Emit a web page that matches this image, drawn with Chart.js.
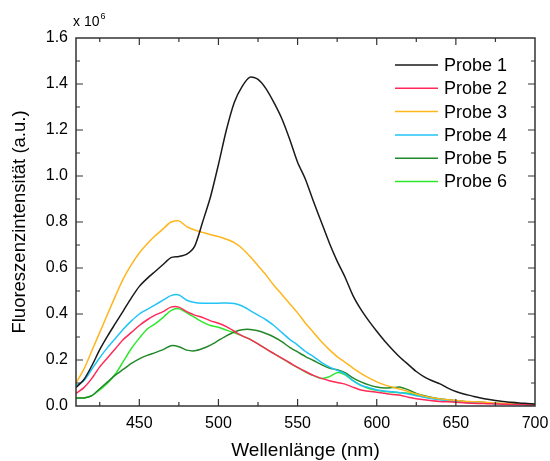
<!DOCTYPE html>
<html>
<head>
<meta charset="utf-8">
<title>Fluoreszenzspektren</title>
<script src="https://cdn.jsdelivr.net/npm/chart.js@4.4.1/dist/chart.umd.min.js"></script>
<style>
    html, body { margin: 0; padding: 0; background: #fff; }
    #wrap { width: 550px; height: 461px; }
</style>
</head>
<body>
<div id="wrap"><canvas id="spectra" width="550" height="461"></canvas></div>
<script>
// Wavelengths (nm), 5 nm steps
const wavelengths = [];
for (let nm = 410; nm <= 700; nm += 5) wavelengths.push(nm);

// Intensities in units of 10^6 (a.u.)
const probe1 = [0.08, 0.115, 0.175, 0.245, 0.305, 0.36, 0.415, 0.47, 0.52, 0.555, 0.585, 0.615, 0.645, 0.65, 0.66, 0.695,
    0.80, 0.91, 1.05, 1.20, 1.32, 1.39, 1.43, 1.42, 1.38, 1.32, 1.25, 1.16, 1.06, 0.985, 0.89, 0.80, 0.71, 0.63, 0.56,
    0.48, 0.42, 0.37, 0.325, 0.283, 0.245, 0.21, 0.18, 0.15, 0.127, 0.11, 0.096, 0.078, 0.063, 0.052, 0.044, 0.036,
    0.029, 0.024, 0.02, 0.016, 0.013, 0.011, 0.009];
const probe2 = [0.055, 0.08, 0.12, 0.17, 0.21, 0.25, 0.29, 0.32, 0.35, 0.375, 0.395, 0.41, 0.43, 0.43, 0.41, 0.395,
    0.385, 0.37, 0.36, 0.345, 0.325, 0.305, 0.29, 0.27, 0.248, 0.228, 0.208, 0.188, 0.168, 0.15, 0.133, 0.12, 0.11,
    0.102, 0.095, 0.082, 0.07, 0.064, 0.06, 0.055, 0.05, 0.047, 0.038, 0.032, 0.027, 0.023, 0.02, 0.018, 0.016,
    0.014, 0.012, 0.011, 0.01, 0.009, 0.008, 0.007, 0.006, 0.005, 0.004];
const probe3 = [0.10, 0.16, 0.24, 0.32, 0.40, 0.48, 0.555, 0.615, 0.665, 0.705, 0.74, 0.77, 0.80, 0.805, 0.78, 0.765,
    0.755, 0.745, 0.737, 0.725, 0.71, 0.685, 0.65, 0.61, 0.57, 0.525, 0.485, 0.445, 0.405, 0.36, 0.32, 0.28, 0.245,
    0.215, 0.19, 0.165, 0.142, 0.122, 0.105, 0.092, 0.082, 0.073, 0.063, 0.052, 0.043, 0.036, 0.031, 0.027, 0.024,
    0.021, 0.019, 0.017, 0.015, 0.013, 0.011, 0.009, 0.008, 0.007, 0.006];
const probe4 = [0.09, 0.11, 0.16, 0.21, 0.255, 0.295, 0.335, 0.37, 0.40, 0.42, 0.44, 0.46, 0.48, 0.483, 0.46, 0.45,
    0.447, 0.447, 0.447, 0.448, 0.446, 0.435, 0.415, 0.395, 0.375, 0.35, 0.32, 0.29, 0.265, 0.237, 0.215, 0.19, 0.17,
    0.155, 0.14, 0.11, 0.09, 0.08, 0.07, 0.065, 0.062, 0.058, 0.052, 0.045, 0.038, 0.032, 0.027, 0.023, 0.02, 0.018,
    0.016, 0.014, 0.012, 0.01, 0.009, 0.008, 0.007, 0.006, 0.005];
const probe5 = [0.035, 0.035, 0.045, 0.075, 0.105, 0.135, 0.16, 0.185, 0.205, 0.22, 0.232, 0.245, 0.262, 0.258,
    0.243, 0.24, 0.25, 0.265, 0.285, 0.305, 0.322, 0.332, 0.333, 0.327, 0.315, 0.30, 0.28, 0.255, 0.235, 0.215, 0.198,
    0.18, 0.165, 0.158, 0.145, 0.122, 0.105, 0.092, 0.083, 0.078, 0.08, 0.082, 0.07, 0.055, 0.045, 0.037, 0.031,
    0.027, 0.023, 0.02, 0.018, 0.016, 0.014, 0.012, 0.01, 0.009, 0.008, 0.007, 0.006];
const probe6 = [0.035, 0.035, 0.045, 0.07, 0.10, 0.14, 0.195, 0.25, 0.295, 0.335, 0.357, 0.385, 0.415, 0.423, 0.405,
    0.385, 0.365, 0.35, 0.342, 0.33, 0.318, 0.305, 0.29, 0.27, 0.248, 0.228, 0.207, 0.187, 0.167, 0.148, 0.132, 0.12,
    0.127, 0.145, 0.135, 0.11, 0.09, 0.076, 0.068, 0.063, 0.06, 0.058, 0.055, 0.048, 0.04, 0.034, 0.029, 0.025,
    0.022, 0.02, 0.018, 0.016, 0.014, 0.012, 0.01, 0.009, 0.008, 0.007, 0.006];

const seriesNames = ['Probe 1', 'Probe 2', 'Probe 3', 'Probe 4', 'Probe 5', 'Probe 6'];
const seriesValues = [probe1, probe2, probe3, probe4, probe5, probe6];
const seriesColors = ['#1a1a1a', '#ff2a5a', '#ffb61e', '#22c4f8', '#23882a', '#2ee82e'];

const FONT = '"Liberation Sans", Arial, sans-serif';

const datasets = seriesNames.map((name, i) => ({
    label: name,
    data: wavelengths.map((nm, j) => ({ x: nm, y: seriesValues[i][j] })),
    borderColor: seriesColors[i],
    backgroundColor: seriesColors[i],
    borderWidth: 1.5,
    pointRadius: 0,
    tension: 0.25,
    fill: false
}));

// Frame with inward ticks on all four sides, multiplier and legend
const framePlugin = {
    id: 'frame',
    afterDraw(chart) {
        const ctx = chart.ctx;
        const area = chart.chartArea;
        const xs = chart.scales.x;
        const ys = chart.scales.y;
        ctx.save();
        ctx.strokeStyle = '#333';
        ctx.lineWidth = 1.5;
        ctx.strokeRect(area.left, area.top, area.right - area.left, area.bottom - area.top);

        ctx.lineWidth = 1.2;
        ctx.beginPath();
        for (let nm = 425; nm < 700; nm += 25) {
            const px = xs.getPixelForValue(nm);
            const len = nm % 50 === 0 ? 7 : 4;
            ctx.moveTo(px, area.bottom); ctx.lineTo(px, area.bottom - len);
            ctx.moveTo(px, area.top); ctx.lineTo(px, area.top + len);
        }
        for (let k = 1; k < 16; k++) {
            const py = ys.getPixelForValue(k / 10);
            const len = k % 2 === 0 ? 7 : 4;
            ctx.moveTo(area.left, py); ctx.lineTo(area.left + len, py);
            ctx.moveTo(area.right, py); ctx.lineTo(area.right - len, py);
        }
        ctx.stroke();

        // x 10^6
        ctx.fillStyle = '#000';
        ctx.textBaseline = 'alphabetic';
        ctx.textAlign = 'left';
        ctx.font = '14px ' + FONT;
        ctx.fillText('x 10', 73, 26);
        const w = ctx.measureText('x 10').width;
        ctx.font = '9px ' + FONT;
        ctx.fillText('6', 73 + w + 1, 19);

        // legend
        ctx.font = '18px ' + FONT;
        ctx.textBaseline = 'middle';
        chart.data.datasets.forEach((ds, i) => {
            const y = 65 + i * 23.3;
            ctx.strokeStyle = ds.borderColor;
            ctx.lineWidth = 1.5;
            ctx.beginPath();
            ctx.moveTo(395, y); ctx.lineTo(438, y);
            ctx.stroke();
            ctx.fillStyle = '#000';
            ctx.fillText(ds.label, 444, y + 1);
        });
        ctx.restore();
    }
};

new Chart(document.getElementById('spectra'), {
    type: 'line',
    data: { datasets: datasets },
    options: {
        responsive: false,
        devicePixelRatio: 1,
        animation: false,
        layout: { padding: { top: 38, right: 15, left: 0, bottom: 0 } },
        plugins: { legend: { display: false }, tooltip: { enabled: false } },
        scales: {
            x: {
                type: 'linear',
                min: 410,
                max: 700,
                grid: { display: false, drawTicks: false },
                border: { display: false },
                ticks: {
                    stepSize: 50,
                    includeBounds: false,
                    padding: 8,
                    color: '#000',
                    maxRotation: 0,
                    font: { family: FONT, size: 16 }
                },
                title: {
                    display: true,
                    text: 'Wellenlänge (nm)',
                    color: '#000',
                    font: { family: FONT, size: 19, lineHeight: 1.1 },
                    padding: { top: 0, bottom: 0 }
                },
                afterFit(scale) {
                    scale.height = 55;
                    scale.paddingRight = 0;
                    scale.paddingLeft = 0;
                }
            },
            y: {
                min: 0,
                max: 1.6,
                grid: { display: false, drawTicks: false },
                border: { display: false },
                ticks: {
                    stepSize: 0.2,
                    padding: 8,
                    color: '#000',
                    font: { family: FONT, size: 16 },
                    callback: v => v.toFixed(1)
                },
                title: {
                    display: true,
                    text: 'Fluoreszenzintensität (a.u.)',
                    color: '#000',
                    font: { family: FONT, size: 18.5, lineHeight: 1.2 },
                    padding: { top: 9, bottom: 0 }
                },
                afterFit(scale) {
                    scale.width = 76;
                    scale.paddingTop = 0;
                    scale.paddingBottom = 0;
                }
            }
        }
    },
    plugins: [framePlugin]
});
</script>
</body>
</html>
